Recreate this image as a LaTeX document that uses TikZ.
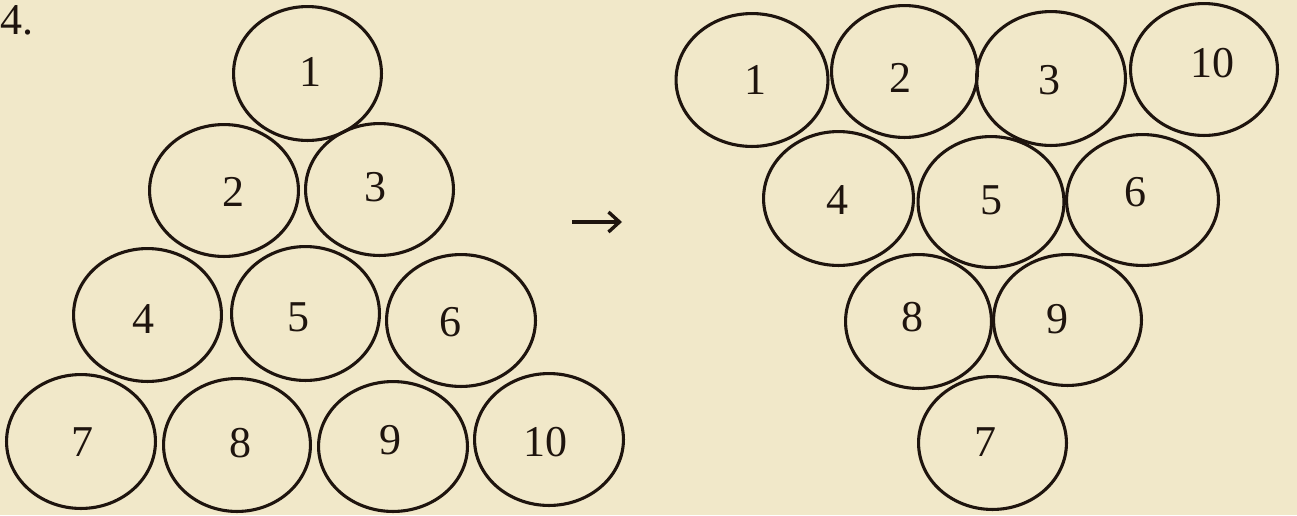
\documentclass[tikz,border=0pt]{standalone}
\usepackage{fontspec}
\setmainfont{Liberation Serif}
\usetikzlibrary{shapes.geometric,arrows.meta}
\definecolor{paper}{RGB}{241,232,201}
\definecolor{ink}{RGB}{30,20,14}
\tikzset{
  ball/.style={ellipse, draw=ink, line width=3.1pt, inner sep=0pt},
  num/.style={text=ink, inner sep=0pt, font=\fontsize{44}{48}\selectfont},
}
% name, cx, cy, outer width, outer height, label, lx, ly
\newcommand\myball[8]{%
  \node[ball, minimum width={#4pt-3.1pt}, minimum height={#5pt-3.1pt},
        label={[num, xshift={#7pt-#2pt}, yshift={#3pt-#8pt}]center:#6}] (#1) at (#2,#3) {};}
\begin{document}
\begin{tikzpicture}[x=1pt, y=-1pt]
\fill[paper] (0,0) rectangle (1297,515);
\useasboundingbox (0,0) rectangle (1297,515);
% problem number
\node[num, anchor=base west] (title) at (0,34) {4.};
% left triangle
\myball{L1}{307.5}{73.5}{151}{137}{1}{310}{72}
\myball{L2}{224}{190.5}{152}{135}{2}{233}{192}
\myball{L3}{379.5}{189.5}{151}{135}{3}{375}{187}
\myball{L4}{147.5}{315}{151}{136}{4}{143}{319}
\myball{L5}{305.5}{313.5}{151}{137}{5}{298}{317}
\myball{L6}{461}{320.5}{152}{135}{6}{450}{322}
\myball{L7}{81}{441.5}{152}{137}{7}{82}{442}
\myball{L8}{237}{445}{150}{136}{8}{240}{443}
\myball{L9}{393}{446.5}{152}{133}{9}{390}{440}
\myball{L10}{549}{439.5}{152}{135}{10}{545}{442}
% arrow
\coordinate (a0) at (572,222);
\coordinate (a1) at (622,222);
\draw[ink, line width=3.6pt, -{Straight Barb[length=11pt, width=20pt, line width=3.4pt]}] (a0) -- (a1);
% right triangle
\myball{R1}{752}{80}{155}{136}{1}{755}{80}
\myball{R2}{904.5}{71.5}{149}{135}{2}{900}{78}
\myball{R3}{1051}{78.5}{152}{137}{3}{1049}{80}
\myball{R10}{1204}{69.5}{150}{135}{10}{1212}{63}
\myball{R4}{838.5}{198.5}{153}{137}{4}{837}{200}
\myball{R5}{991}{202}{149}{134}{5}{991}{200}
\myball{R6}{1142.5}{200}{155}{134}{6}{1135}{192}
\myball{R8}{918.5}{321.5}{149}{137}{8}{912}{317}
\myball{R9}{1067.5}{320}{151}{134}{9}{1057}{319}
\myball{R7}{992.5}{443}{151}{136}{7}{985}{442}
\end{tikzpicture}
\end{document}
